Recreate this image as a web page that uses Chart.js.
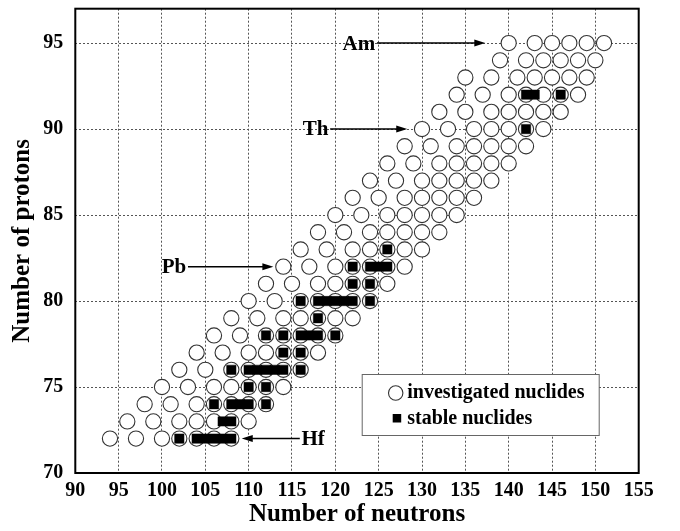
<!DOCTYPE html>
<html><head><meta charset="utf-8">
<script src="https://cdn.jsdelivr.net/npm/chart.js@4/dist/chart.umd.min.js"></script>
<style>html,body{margin:0;padding:0;background:#fff;}canvas{display:block;}</style>
</head><body>
<canvas id="c" width="680" height="531"></canvas>
<script>
// ---- tick labels ----
const xTicks = [90, 95, 100, 105, 110, 115, 120, 125, 130, 135, 140, 145, 150, 155];
const yTicks = [70, 75, 80, 85, 90, 95];

// ---- investigated nuclides: proton number per row, neutron numbers per row ----
const investigatedZ = [72, 73, 74, 75, 76, 77, 78, 79, 80, 81, 82, 83, 84, 85, 86, 87, 88, 89, 90, 91, 92, 93, 94, 95];
const investigatedN = [
  [94, 97, 100, 102, 104, 106, 108],
  [96, 99, 102, 104, 106, 108, 110],
  [98, 101, 104, 106, 108, 110, 112],
  [100, 103, 106, 108, 110, 112, 114],
  [102, 105, 108, 110, 112, 114, 116],
  [104, 107, 110, 112, 114, 116, 118],
  [106, 109, 112, 114, 116, 118, 120],
  [108, 111, 114, 116, 118, 120, 122],
  [110, 113, 116, 118, 120, 122, 124],
  [112, 115, 118, 120, 122, 124, 126],
  [114, 117, 120, 122, 124, 126, 128],
  [116, 119, 122, 124, 126, 128, 130],
  [118, 121, 124, 126, 128, 130, 132],
  [120, 123, 126, 128, 130, 132, 134],
  [122, 125, 128, 130, 132, 134, 136],
  [124, 127, 130, 132, 134, 136, 138],
  [126, 129, 132, 134, 136, 138, 140],
  [128, 131, 134, 136, 138, 140, 142],
  [130, 133, 136, 138, 140, 142, 144],
  [132, 135, 138, 140, 142, 144, 146],
  [134, 137, 140, 142, 144, 146, 148],
  [135, 138, 141, 143, 145, 147, 149],
  [139, 142, 144, 146, 148, 150],
  [140, 143, 145, 147, 149, 151]
];

// ---- stable nuclides ----
const stableZ = [72, 73, 74, 75, 76, 77, 78, 79, 80, 81, 82, 83, 90, 92];
const stableN = [
  [102, 104, 105, 106, 107, 108],
  [107, 108],
  [106, 108, 109, 110, 112],
  [110, 112],
  [108, 110, 111, 112, 113, 114, 116],
  [114, 116],
  [112, 114, 116, 117, 118, 120],
  [118],
  [116, 118, 119, 120, 121, 122, 124],
  [122, 124],
  [122, 124, 125, 126],
  [126],
  [142],
  [142, 143, 146]
];

// ---- element labels with arrows (data coordinates) ----
const elementLabels = ['Am', 'Th', 'Pb', 'Hf'];
const elementZ = [95, 90, 82, 72];
const labelTextN = [124.6, 119.2, 102.8, 116.1];
const labelAlign = ['right', 'right', 'right', 'left'];
const arrowFromN = [124.8, 119.4, 103.0, 115.9];
const arrowToN = [137.3, 128.3, 112.85, 109.2];

const legendLabels = ['investigated nuclides', 'stable nuclides'];

function toPoints(zs, ns) {
  const pts = [];
  zs.forEach((z, i) => ns[i].forEach(n => pts.push({x: n, y: z})));
  return pts;
}

const SERIF = '"Liberation Serif", "Times New Roman", serif';

const extras = {
  id: 'extras',
  afterDatasetsDraw(chart) {
    const {ctx, chartArea: a, scales: {x, y}} = chart;
    ctx.save();
    // frame
    ctx.strokeStyle = '#000';
    ctx.lineWidth = 2;
    ctx.strokeRect(a.left, a.top, a.right - a.left, a.bottom - a.top);

    // element labels + arrows
    ctx.fillStyle = '#000';
    ctx.strokeStyle = '#000';
    ctx.font = 'bold 21px ' + SERIF;
    ctx.textBaseline = 'middle';
    elementLabels.forEach((lab, i) => {
      const py = y.getPixelForValue(elementZ[i]);
      ctx.textAlign = labelAlign[i];
      ctx.fillText(lab, x.getPixelForValue(labelTextN[i]), py + 1);
      const x0 = x.getPixelForValue(arrowFromN[i]);
      const x1 = x.getPixelForValue(arrowToN[i]);
      const dir = Math.sign(x1 - x0);
      ctx.lineWidth = 1.5;
      ctx.beginPath();
      ctx.moveTo(x0, py);
      ctx.lineTo(x1 - dir * 8, py);
      ctx.stroke();
      ctx.beginPath();
      ctx.moveTo(x1, py);
      ctx.lineTo(x1 - dir * 11, py - 3.5);
      ctx.lineTo(x1 - dir * 11, py + 3.5);
      ctx.closePath();
      ctx.fill();
    });

    // legend box
    const bx = a.right - 277, by = a.bottom - 99, bw = 237, bh = 61;
    ctx.fillStyle = '#fff';
    ctx.fillRect(bx, by, bw, bh);
    ctx.strokeStyle = '#666';
    ctx.lineWidth = 1;
    ctx.strokeRect(bx + 0.5, by + 0.5, bw, bh);
    // circle symbol
    ctx.beginPath();
    ctx.arc(bx + 34, by + 19, 7.2, 0, Math.PI * 2);
    ctx.strokeStyle = '#333';
    ctx.lineWidth = 1.1;
    ctx.stroke();
    // square symbol
    ctx.fillStyle = '#000';
    ctx.fillRect(bx + 31, by + 40, 8.5, 8.5);
    ctx.font = 'bold 20px ' + SERIF;
    ctx.textAlign = 'left';
    ctx.textBaseline = 'middle';
    ctx.fillText(legendLabels[0], bx + 45.5, by + 19);
    ctx.fillText(legendLabels[1], bx + 45.5, by + 44.5);
    ctx.restore();
  }
};

new Chart(document.getElementById('c'), {
  type: 'scatter',
  data: {
    datasets: [
      {
        label: legendLabels[1],
        data: toPoints(stableZ, stableN),
        pointStyle: 'rect',
        pointRadius: 6.6,
        pointHoverRadius: 6.6,
        backgroundColor: '#000',
        borderColor: '#000',
        borderWidth: 0.5
      },
      {
        label: legendLabels[0],
        data: toPoints(investigatedZ, investigatedN),
        pointStyle: 'circle',
        pointRadius: 7.6,
        pointHoverRadius: 7.6,
        backgroundColor: '#fff',
        borderColor: '#333',
        borderWidth: 1.1
      }
    ]
  },
  options: {
    responsive: false,
    animation: false,
    devicePixelRatio: 1,
    events: [],
    layout: {padding: {top: 3, right: 41.3, left: 0, bottom: 0}},
    plugins: {legend: {display: false}, tooltip: {enabled: false}},
    scales: {
      x: {
        type: 'linear',
        min: 90, max: 155,
        afterBuildTicks(s) { s.ticks = xTicks.map(v => ({value: v})); },
        afterFit(s) { s.height = 58; },
        grid: {color: '#555', lineWidth: 1, drawTicks: false},
        border: {display: false, dash: [2, 2]},
        ticks: {color: '#000', padding: 6, font: {family: SERIF, weight: 'bold', size: 20}, maxRotation: 0, autoSkip: false},
        title: {display: true, text: 'Number of neutrons', color: '#000', font: {family: SERIF, weight: 'bold', size: 25}, padding: {top: 0, bottom: 1}}
      },
      y: {
        type: 'linear',
        min: 70, max: 97,
        afterBuildTicks(s) { s.ticks = yTicks.map(v => ({value: v})); },
        afterFit(s) { s.width = 75.3; s.paddingTop = 0; s.paddingBottom = 0; },
        grid: {color: '#555', lineWidth: 1, drawTicks: false},
        border: {display: false, dash: [2, 2]},
        ticks: {color: '#000', padding: 12, font: {family: SERIF, weight: 'bold', size: 20}, autoSkip: false},
        title: {display: true, text: 'Number of protons', color: '#000', font: {family: SERIF, weight: 'bold', size: 25}, padding: {top: 8, bottom: 0}}
      }
    }
  },
  plugins: [extras]
});
</script>
</body></html>
